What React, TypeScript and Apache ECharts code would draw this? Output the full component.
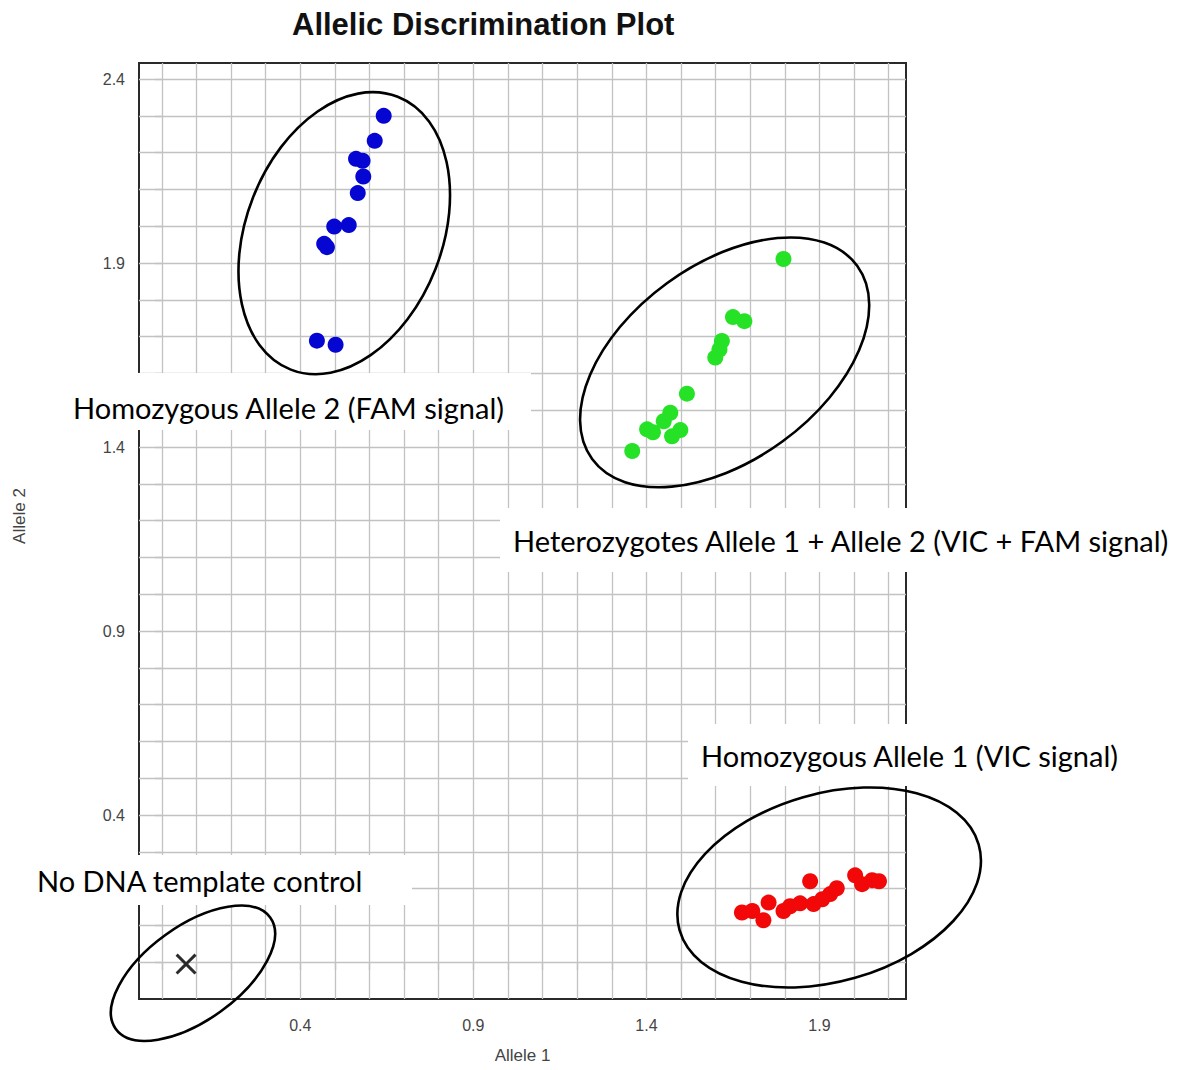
import React, { useEffect, useRef } from "react";
import * as echarts from "echarts";

// ---- axis ticks / labels ----
const xLabelValues = [0.4, 0.9, 1.4, 1.9];
const yLabelValues = [0.4, 0.9, 1.4, 1.9, 2.4];
const xGridValues = [0, 0.1, 0.2, 0.3, 0.4, 0.5, 0.6, 0.7, 0.8, 0.9, 1.0, 1.1, 1.2, 1.3, 1.4, 1.5, 1.6, 1.7, 1.8, 1.9, 2.0, 2.1];
const yGridValues = [0, 0.1, 0.2, 0.3, 0.4, 0.5, 0.6, 0.7, 0.8, 0.9, 1.0, 1.1, 1.2, 1.3, 1.4, 1.5, 1.6, 1.7, 1.8, 1.9, 2.0, 2.1, 2.2, 2.3, 2.4];

// ---- series values [Allele 1, Allele 2] ----
const homozygousAllele2 = [
  [0.641, 2.3], [0.615, 2.232], [0.561, 2.183], [0.58, 2.178], [0.582, 2.135],
  [0.566, 2.09], [0.54, 2.003], [0.498, 1.999], [0.469, 1.952], [0.477, 1.943],
  [0.448, 1.689], [0.502, 1.678],
];
const heterozygotes = [
  [1.796, 1.911], [1.65, 1.753], [1.683, 1.742], [1.618, 1.688], [1.611, 1.665],
  [1.599, 1.643], [1.517, 1.545], [1.469, 1.493], [1.45, 1.47], [1.402, 1.448],
  [1.419, 1.44], [1.474, 1.429], [1.498, 1.446], [1.359, 1.389],
];
const homozygousAllele1 = [
  [1.676, 0.135], [1.706, 0.139], [1.738, 0.114], [1.753, 0.162], [1.796, 0.139],
  [1.815, 0.152], [1.844, 0.16], [1.873, 0.22], [1.883, 0.158], [1.908, 0.171],
  [1.931, 0.185], [1.95, 0.201], [2.003, 0.236], [2.023, 0.212], [2.052, 0.223],
  [2.072, 0.22],
];
const noTemplateControl = [[0.07, -0.005]];

// ---- cluster ellipses (center in data units) ----
const clusterEllipses = [
  { center: [0.527, 1.981], rx: 98, ry: 146.5, angle: -21.4 },
  { center: [1.626, 1.63], rx: 164, ry: 98, angle: 36.1 },
  { center: [1.928, 0.203], rx: 155.6, ry: 94, angle: 16 },
  { center: [0.09, -0.03], rx: 95.2, ry: 47.2, angle: 35.8 },
];

// ---- annotation labels ----
const annotationTexts = [
  "Homozygous Allele 2 (FAM signal)",
  "Heterozygotes Allele 1 + Allele 2 (VIC + FAM signal)",
  "Homozygous Allele 1 (VIC signal)",
  "No DNA template control",
];
const annotationBoxes = [
  { box: [60, 373, 471, 57], tx: 73, ty: 407 },
  { box: [500, 508, 684, 64], tx: 513, ty: 540 },
  { box: [688, 724, 447, 62], tx: 701, ty: 755 },
  { box: [25, 855, 387, 50], tx: 37, ty: 880 },
];

const crossPath =
  "path://M2,0 L10,8 L18,0 L20,2 L12,10 L20,18 L18,20 L10,12 L2,20 L0,18 L8,10 L0,2 Z";

export default function App() {
  const ref = useRef<HTMLDivElement>(null);

  useEffect(() => {
    document.body.style.margin = "0";
    const el = ref.current;
    if (!el) return;
    const chart = echarts.init(el, null, { renderer: "svg" });

    const tickFont = {
      fontFamily: "Liberation Sans",
      fontSize: 16,
      color: "#444",
    };

    const gridLineData = [
      ...xGridValues.map((v) => ({ xAxis: v })),
      ...yGridValues.map((v) => ({ yAxis: v })),
    ];

    chart.setOption({
      animation: false,
      backgroundColor: "#ffffff",
      title: {
        text: "Allelic Discrimination Plot",
        left: 287,
        top: 4,
        textStyle: {
          fontFamily: "Liberation Sans",
          fontWeight: "bold",
          fontSize: 31,
          color: "#111",
        },
      },
      grid: {
        left: 139,
        right: 278,
        top: 63,
        bottom: 71,
        show: true,
        borderColor: "#2a2a2a",
        borderWidth: 2,
        backgroundColor: "#fff",
      },
      xAxis: {
        type: "value",
        min: -0.066,
        max: 2.15,
        name: "Allele 1",
        nameLocation: "middle",
        nameGap: 48,
        nameTextStyle: { fontFamily: "Liberation Sans", fontSize: 17, color: "#444" },
        axisLine: { show: false },
        splitLine: { show: false },
        axisTick: {
          show: true,
          customValues: xGridValues,
          length: 8,
          lineStyle: { color: "#aaa", width: 1.3 },
        },
        axisLabel: {
          customValues: xLabelValues,
          margin: 18,
          formatter: (v: number) => v.toFixed(1),
          ...tickFont,
        },
      },
      yAxis: {
        type: "value",
        min: -0.1,
        max: 2.4435,
        name: "Allele 2",
        nameLocation: "middle",
        nameGap: 111,
        nameRotate: 90,
        nameTextStyle: {
          fontFamily: "Liberation Sans",
          fontSize: 17,
          color: "#444",
          padding: [0, 0, 0, 30],
        },
        axisLine: { show: false },
        splitLine: { show: false },
        axisTick: {
          show: true,
          customValues: yGridValues,
          length: 7,
          lineStyle: { color: "#aaa", width: 1.3 },
        },
        axisLabel: {
          customValues: yLabelValues,
          margin: 14,
          formatter: (v: number) => v.toFixed(1),
          ...tickFont,
        },
      },
      series: [
        {
          type: "line",
          data: [],
          z: 1,
          silent: true,
          markLine: {
            silent: true,
            symbol: ["none", "none"],
            label: { show: false },
            lineStyle: { color: "#c2c2c2", width: 1.3, type: "solid" },
            emphasis: { disabled: true },
            data: gridLineData,
          },
        },
        {
          name: "Homozygous Allele 2",
          type: "scatter",
          z: 5,
          symbolSize: 16,
          itemStyle: { color: "#0606d2", opacity: 1 },
          data: homozygousAllele2,
        },
        {
          name: "Heterozygotes",
          type: "scatter",
          z: 5,
          symbolSize: 16,
          itemStyle: { color: "#26e226", opacity: 1 },
          data: heterozygotes,
        },
        {
          name: "Homozygous Allele 1",
          type: "scatter",
          z: 5,
          symbolSize: 16,
          itemStyle: { color: "#f20808", opacity: 1 },
          data: homozygousAllele1,
        },
        {
          name: "NTC",
          type: "scatter",
          z: 5,
          symbol: crossPath,
          symbolSize: 21,
          itemStyle: { color: "#2b2b2b", opacity: 1 },
          data: noTemplateControl,
        },
      ],
    });

    const graphics: any[] = [];
    annotationBoxes.forEach((a, i) => {
      graphics.push({
        type: "rect",
        z: 20,
        silent: true,
        shape: { x: a.box[0], y: a.box[1], width: a.box[2], height: a.box[3] },
        style: { fill: "#ffffff" },
      });
      graphics.push({
        type: "text",
        z: 21,
        silent: true,
        x: a.tx,
        y: a.ty,
        style: {
          text: annotationTexts[i],
          font: "29px Lato",
          fill: "#000",
          align: "left",
          verticalAlign: "middle",
        },
      });
    });
    clusterEllipses.forEach((e) => {
      const p = chart.convertToPixel({ gridIndex: 0 }, e.center) as number[];
      graphics.push({
        type: "ellipse",
        z: 22,
        silent: true,
        x: p[0],
        y: p[1],
        rotation: (e.angle * Math.PI) / 180,
        shape: { cx: 0, cy: 0, rx: e.rx, ry: e.ry },
        style: { fill: "none", stroke: "#000", lineWidth: 2.6 },
      });
    });
    chart.setOption({ graphic: graphics });

    return () => chart.dispose();
  }, []);

  return <div ref={ref} style={{ width: 1184, height: 1070 }} />;
}
